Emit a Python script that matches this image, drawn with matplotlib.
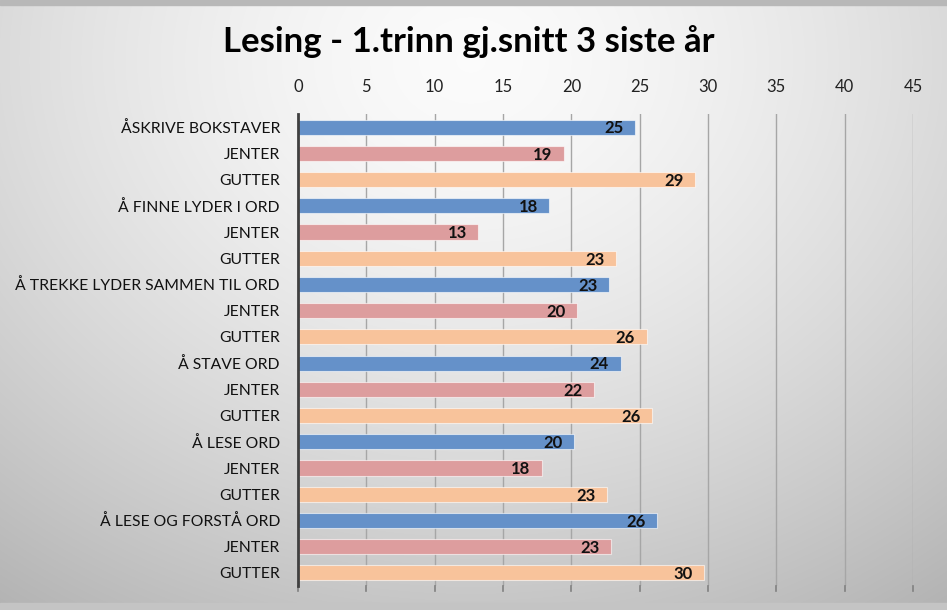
import numpy as np
import matplotlib
matplotlib.use("Agg")
import matplotlib.pyplot as plt

categories = ["ÅSKRIVE BOKSTAVER", "JENTER", "GUTTER",
              "Å FINNE LYDER I ORD", "JENTER", "GUTTER",
              "Å TREKKE LYDER SAMMEN TIL ORD", "JENTER", "GUTTER",
              "Å STAVE ORD", "JENTER", "GUTTER",
              "Å LESE ORD", "JENTER", "GUTTER",
              "Å LESE OG FORSTÅ ORD", "JENTER", "GUTTER"]
values = [24.65, 19.45, 29.05,
          18.4, 13.2, 23.3,
          22.75, 20.4, 25.5,
          23.6, 21.65, 25.9,
          20.2, 17.85, 22.6,
          26.25, 22.9, 29.7]
xticks = [0, 5, 10, 15, 20, 25, 30, 35, 40, 45]
title = "Lesing - 1.trinn gj.snitt 3 siste år"

plt.rcParams['font.family'] = ['Lato', 'DejaVu Sans']

fig = plt.figure(figsize=(9.47, 6.10), dpi=100)

# background gradient
bg = fig.add_axes([0, 0, 1, 1], zorder=-10)
yy, xx = np.mgrid[0:610, 0:947]
cx, cy = 470, 60
d = np.sqrt(((xx - cx) / 947.0) ** 2 + ((yy - cy) / 610.0) ** 2 * 0.6)
val = 0.985 - 0.36 * d ** 1.5
val = np.clip(val, 0.70, 1.0)
img = np.dstack([val, val, val])
bg.imshow(img, aspect='auto', extent=[0, 1, 0, 1], origin='upper')
bg.add_patch(plt.Rectangle((0, 0.992), 1, 0.008, color='#b8b8b8', transform=bg.transAxes))
bg.add_patch(plt.Rectangle((0, 0), 1, 0.012, color='#c4c4c4', transform=bg.transAxes))
bg.axis('off')

ax = fig.add_axes([298 / 947, 1 - 586 / 610, (913 - 298) / 947, (586 - 114) / 610])
ax.patch.set_alpha(0)

colors = ['#6591c9', '#dd9d9e', '#f8c39b'] * 6
ypos = np.arange(len(categories))
ax.barh(ypos, values, height=0.58, color=colors, edgecolor=(1, 1, 1, 0.6),
        linewidth=0.8, zorder=3)
for y, v in zip(ypos, values):
    ax.text(v - 0.85, y + 0.05, f"{round(v):d}", ha='right', va='center',
            fontsize=12, fontweight='bold', color='#111111', zorder=4)

ax.set_xlim(0, 45)
ax.set_ylim(len(categories) - 0.5, -0.5)
ax.set_xticks(xticks)
ax.xaxis.tick_top()
ax.tick_params(axis='x', which='both', length=0, labelsize=12, pad=14, colors='#222222')
ax.set_yticks(ypos)
ax.set_yticklabels(categories)
ax.tick_params(axis='y', length=0, labelsize=11.3, pad=13, colors='#111111')
ax.grid(axis='x', color='#a6a6a6', linewidth=1.0, zorder=0)
ax.set_axisbelow(True)
for s in ['top', 'right', 'bottom']:
    ax.spines[s].set_visible(False)
ax.spines['left'].set_color('#404040')
ax.spines['left'].set_linewidth(2)
ax.spines['left'].set_zorder(5)

# small tick marks below the plot
for t in xticks:
    ax.plot([t, t], [len(categories) - 0.5, len(categories) - 0.3], color='#808080',
            linewidth=1.2, clip_on=False, zorder=1)

fig.text(0.5 - 0.005, 1 - 42 / 610, title, ha='center', va='center',
         fontsize=25, fontweight='bold', color='#000000')

fig.savefig("out.png", dpi=100)
